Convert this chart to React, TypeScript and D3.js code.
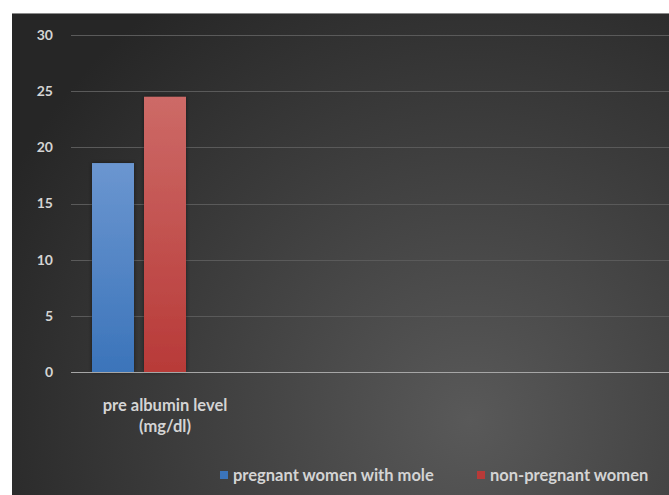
import React, { useEffect, useRef } from "react";
import * as d3 from "d3";

// chart values
const categories = ["pre albumin level (mg/dl)"];
const series = ["pregnant women with mole", "non-pregnant women"];
const values = [[18.6, 24.5]]; // one row per category
const yTicks = [0, 5, 10, 15, 20, 25, 30];
const colors = [
  ["#6b96d0", "#3b74ba"],
  ["#cd6a67", "#b83a38"],
];

const App = () => {
  const svgRef = useRef<SVGSVGElement | null>(null);
  const w = 669;
  const h = 495;
  const m = { top: 35, left: 71, bottom: 123 };
  const font = "Lato, 'Open Sans', sans-serif";

  useEffect(() => {
    const svg = d3.select(svgRef.current);
    svg.selectAll("*").remove();
    svg
      .attr("width", w)
      .attr("height", h)
      .style("display", "block")
      .style("position", "absolute")
      .style("left", 0)
      .style("top", 0);

    const defs = svg.append("defs");
    const bg = defs
      .append("radialGradient")
      .attr("id", "bg")
      .attr("gradientUnits", "userSpaceOnUse")
      .attr("cx", 470)
      .attr("cy", 420)
      .attr("r", 520);
    bg.append("stop").attr("offset", "0%").attr("stop-color", "#595959");
    bg.append("stop").attr("offset", "100%").attr("stop-color", "#262626");

    colors.forEach((c, i) => {
      const g = defs
        .append("linearGradient")
        .attr("id", `bar${i}`)
        .attr("x1", 0)
        .attr("y1", 0)
        .attr("x2", 0)
        .attr("y2", 1);
      g.append("stop").attr("offset", "0%").attr("stop-color", c[0]);
      g.append("stop").attr("offset", "100%").attr("stop-color", c[1]);
    });
    const sh = defs.append("filter").attr("id", "shadow").attr("x", "-20%").attr("width", "140%");
    sh.append("feDropShadow")
      .attr("dx", 0)
      .attr("dy", 0)
      .attr("stdDeviation", 2)
      .attr("flood-color", "#000")
      .attr("flood-opacity", 0.5);

    // background card
    svg.append("rect").attr("x", 12).attr("y", 13).attr("width", w - 12).attr("height", h - 13).attr("fill", "url(#bg)");
    svg.append("line").attr("x1", 12).attr("x2", w).attr("y1", 13.5).attr("y2", 13.5).attr("stroke", "#8a8a8a");

    const yScale = d3.scaleLinear().domain([0, 30]).range([h - m.bottom, m.top]);

    // category band (gap width 100%), then series slots inside it
    const x0 = d3.scaleBand().domain(categories).range([m.left, m.left + 188]).padding(0);
    const x1 = d3
      .scaleBand()
      .domain([...series, "(empty)"])
      .range([21, 167])
      .paddingInner(0.1923)
      .paddingOuter(0);

    // gridlines
    svg
      .append("g")
      .selectAll("line")
      .data(yTicks.filter((t) => t > 0))
      .enter()
      .append("line")
      .attr("x1", m.left)
      .attr("x2", w)
      .attr("y1", (d) => Math.round(yScale(d)) + 0.5)
      .attr("y2", (d) => Math.round(yScale(d)) + 0.5)
      .attr("stroke", "#5a5a5a")
      .attr("stroke-width", 1);

    // y labels
    svg
      .append("g")
      .selectAll("text")
      .data(yTicks)
      .enter()
      .append("text")
      .attr("x", 53)
      .attr("y", (d) => yScale(d))
      .attr("dy", "0.35em")
      .attr("text-anchor", "end")
      .attr("fill", "#d4d4d4")
      .style("font-family", font)
      .style("font-weight", "bold")
      .style("font-size", "14px")
      .text((d) => d);

    // bars
    const groups = svg
      .append("g")
      .selectAll("g")
      .data(categories)
      .enter()
      .append("g")
      .attr("transform", (d) => `translate(${x0(d)},0)`);

    groups
      .selectAll("rect")
      .data((d, i) => values[i].map((v, j) => ({ key: series[j], v, j })))
      .enter()
      .append("rect")
      .attr("x", (d) => x1(d.key)!)
      .attr("y", (d) => yScale(d.v))
      .attr("width", x1.bandwidth())
      .attr("height", (d) => yScale(0) - yScale(d.v))
      .attr("fill", (d) => `url(#bar${d.j})`)
      .attr("filter", "url(#shadow)");

    // axis line
    svg
      .append("line")
      .attr("x1", m.left)
      .attr("x2", w)
      .attr("y1", yScale(0) + 0.5)
      .attr("y2", yScale(0) + 0.5)
      .attr("stroke", "#a6a6a6")
      .attr("stroke-width", 1.2);

    // category labels
    groups
      .append("text")
      .attr("x", x0.bandwidth() / 2)
      .attr("y", 411)
      .attr("text-anchor", "middle")
      .attr("fill", "#d4d4d4")
      .style("font-family", font)
      .style("font-weight", "bold")
      .style("font-size", "16.5px")
      .each(function () {
        const t = d3.select(this);
        const parts = ["pre albumin level", "(mg/dl)"];
        parts.forEach((p, i) => {
          t.append("tspan")
            .attr("x", x0.bandwidth() / 2)
            .attr("dy", i === 0 ? 0 : 21)
            .text(p);
        });
      });

    // legend
    const legendX = [220, 477];
    const legend = svg
      .append("g")
      .selectAll("g")
      .data(series)
      .enter()
      .append("g")
      .attr("transform", (d, i) => `translate(${legendX[i]},471)`);
    legend
      .append("rect")
      .attr("width", 8)
      .attr("height", 8)
      .attr("fill", (d, i) => colors[i][1]);
    legend
      .append("text")
      .attr("x", 13)
      .attr("y", 10)
      .attr("fill", "#d4d4d4")
      .style("font-family", font)
      .style("font-weight", "bold")
      .style("font-size", "16.5px")
      .text((d) => d);
  }, []);

  return <svg ref={svgRef}></svg>;
};

export default App;
